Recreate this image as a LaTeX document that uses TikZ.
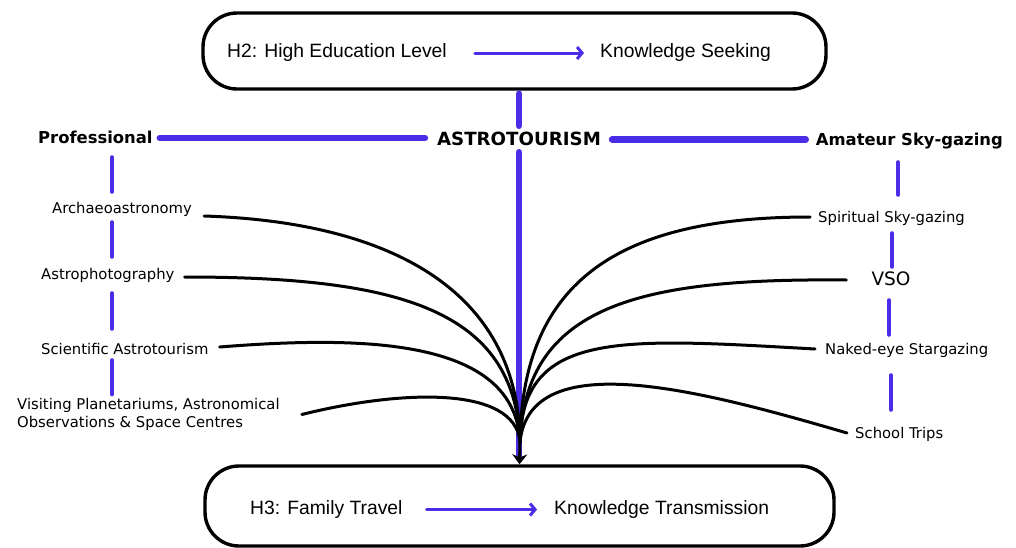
\documentclass[tikz,border=0pt]{standalone}
\usepackage{fontspec}
\setmainfont{DejaVu Sans}
\newfontfamily\boxfont{Liberation Sans}
\usetikzlibrary{arrows.meta}
\definecolor{accent}{HTML}{4A2DE6}
\begin{document}
\begin{tikzpicture}[x=1pt,y=-1pt,
  hyp/.style={draw=black, line width=3.4pt, rounded corners=34pt, inner sep=0pt},
  hyptext/.style={font=\boxfont\fontsize{19.3}{22}\selectfont, inner sep=0pt, anchor=base west},
  flow/.style={draw=accent, line width=3pt, line cap=round,
    -{Straight Barb[length=5pt,width=12pt,line width=3pt]}},
  hubtext/.style={font=\bfseries\fontsize{18.2}{20}\selectfont, inner sep=0pt,
    text height=13pt, text depth=0pt},
  branch/.style={font=\bfseries\fontsize{16.4}{19}\selectfont, inner sep=0pt,
    text height=12pt, text depth=4pt},
  itemfont/.style={font=\fontsize{14.8}{17.5}\selectfont, inner sep=0pt},
  item/.style={itemfont, text height=11pt, text depth=3pt},
  spine/.style={draw=accent, line width=6.5pt, line cap=round},
  tick/.style={draw=accent, line width=4pt, line cap=round},
  strand/.style={draw=black, line width=3pt, line cap=round},
]
\useasboundingbox (0,0) rectangle (1016,548);

% hypothesis boxes
\node[hyp, minimum width=623pt, minimum height=76pt] (topbox) at (514.5,51) {};
\node[hyptext] (h2) at (227,58) {H2: High Education Level};
\node[hyptext] (ks) at (600,58) {Knowledge Seeking};
\draw[flow] ([xshift=28pt]h2.east) -- ([xshift=-16pt]ks.west);

\node[hyp, minimum width=629pt, minimum height=80pt] (botbox) at (519.5,506) {};
\node[hyptext] (h3) at (250,514.5) {H3: Family Travel};
\node[hyptext] (kt) at (554,514.5) {Knowledge Transmission};
\draw[flow] ([xshift=24pt]h3.east) -- ([xshift=-17pt]kt.west);

% central theme and the two branches
\node[hubtext, anchor=base] (astro) at (519,146) {ASTROTOURISM};
\node[branch, anchor=base west] (prof) at (38,144) {Professional};
\node[branch, anchor=base east] (amat) at (1003,146) {Amateur Sky-gazing};

\draw[spine, shorten <=3pt, shorten >=7pt] (astro.north |- topbox.south) -- (astro.north);
\draw[spine, shorten <=7pt, shorten >=12pt]
  ([yshift=2pt]prof.east) -- ([yshift=2pt]prof.east -| astro.west);
\draw[spine, shorten <=11pt, shorten >=10pt] (astro.east) -- (astro.east -| amat.west);
\draw[spine, shorten <=6pt, shorten >=6pt] (astro.south) -- (astro.south |- botbox.north);

% professional activities
\node[item, anchor=base west] (arch) at (52,213) {Archaeoastronomy};
\node[item, anchor=base west] (aphot) at (41,279) {Astrophotography};
\node[item, anchor=base west] (sci) at (41,354) {Scientific Astrotourism};
\node[itemfont, anchor=west, align=left] (visit) at (17,414.5)
  {Visiting Planetariums, Astronomical\\Observations \& Space Centres};

% amateur activities
\node[item, anchor=base west] (spir) at (818,222) {Spiritual Sky-gazing};
\node[font=\fontsize{18.5}{20}\selectfont, inner sep=0pt, text height=14pt,
  text depth=4pt, anchor=base] (vso) at (891,285) {VSO};
\node[item, anchor=base west] (naked) at (825,354) {Naked-eye Stargazing};
\node[item, anchor=base west] (school) at (855,438) {School Trips};

% short ticks down each column
\coordinate (lx) at (112,0);
\draw[tick, shorten <=9pt, shorten >=10pt] (prof.south -| lx) -- (arch.north -| lx);
\draw[tick, shorten <=6pt, shorten >=11pt] (arch.south -| lx) -- (aphot.north -| lx);
\draw[tick, shorten <=11pt, shorten >=14pt] (aphot.south -| lx) -- (sci.north -| lx);
\draw[tick, shorten <=3pt, shorten >=4pt] (sci.south -| lx) -- (visit.north -| lx);

\coordinate (rxa) at (898,0);
\coordinate (rxb) at (892,0);
\coordinate (rxc) at (889,0);
\coordinate (rxd) at (891,0);
\draw[tick, shorten <=12pt, shorten >=16pt] (amat.south -| rxa) -- (spir.north -| rxa);
\draw[tick, shorten <=8pt, shorten >=4pt] (spir.south -| rxb) -- (vso.north -| rxb);
\draw[tick, shorten <=11pt, shorten >=8pt] (vso.south -| rxc) -- (naked.north -| rxc);
\draw[tick, shorten <=18pt, shorten >=17pt] (naked.south -| rxd) -- (school.north -| rxd);

% strands gathering into the trunk
\coordinate (hub) at (520,442);
\draw[strand] ([shift={(12,3)}]arch.base east) .. controls (390,222) and (518,290) .. (hub);
\draw[strand] ([shift={(10,-2)}]aphot.base east) .. controls (400,277) and (515,310) .. (hub);
\draw[strand] ([shift={(11,-7)}]sci.base east) .. controls (370,335) and (515,340) .. (hub);
\draw[strand] ([shift={(22,0)}]visit.east) .. controls (400,390) and (515,385) .. (hub);

\draw[strand] ([shift={(-8,-5)}]spir.base west) .. controls (620,217) and (522,280) .. (hub);
\draw[strand] ([shift={(-25,0)}]vso.west) .. controls (640,278) and (525,305) .. (hub);
\draw[strand] ([shift={(-10,-5)}]naked.base west) .. controls (620,338) and (522,330) .. (hub);
\draw[strand] ([shift={(-8,-5)}]school.base west) .. controls (700,390) and (530,345) .. (hub);

\draw[strand, line cap=butt, -{Stealth[length=10pt,width=15pt]}] (hub) -- (botbox.north);
\end{tikzpicture}
\end{document}
